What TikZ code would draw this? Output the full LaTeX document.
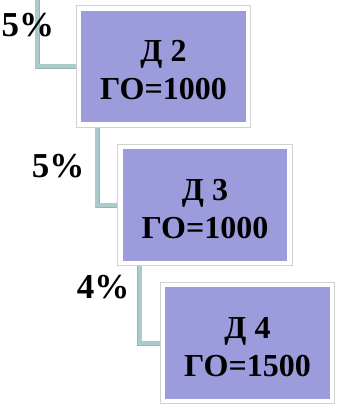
\documentclass[tikz,border=0pt]{standalone}
\usepackage{fontspec}
\setmainfont{Liberation Serif}
\definecolor{boxfill}{HTML}{9C9CDC}
\definecolor{conn}{HTML}{AACACC}
\definecolor{connedge}{HTML}{95B5B8}
\begin{document}
\begin{tikzpicture}[x=1pt,y=-1pt,
  dbox/.style={rectangle, minimum width=169pt, minimum height=116pt, inner sep=0pt, outer sep=0pt,
    fill=boxfill, draw=white, line width=4.5pt,
    preaction={draw=gray!35, line width=6.5pt}},
  btext/.style={align=center, inner sep=0pt, yshift=-4pt,
    font=\fontsize{32}{38}\selectfont\bfseries},
  pct/.style={font=\fontsize{35}{40}\selectfont\bfseries, inner sep=0pt},
  link/.style={draw=conn, line width=4pt, preaction={draw=connedge, line width=5pt}}]
\useasboundingbox (0,0) rectangle (337,404);
\coordinate (top) at (37,-2);
\node[dbox] (b1) at (163.5,66.5) {};
\node[dbox] (b2) at (205,205) {};
\node[dbox] (b3) at (247.5,343) {};
\path[link] (top) |- (b1.west);
\path[link] ([xshift=18pt]b1.south west) |- (b2.west);
\path[link] ([xshift=19pt]b2.south west) |- (b3.west);
\node[dbox] (c1) at (b1) {};
\node[dbox] (c2) at (b2) {};
\node[dbox] (c3) at (b3) {};
\node[btext] (t1) at (c1) {Д 2\\ГО=1000};
\node[btext] (t2) at (c2) {Д 3\\ГО=1000};
\node[btext] (t3) at (c3) {Д 4\\ГО=1500};
\node[pct] (p1) at (28,25) {5\%};
\node[pct] (p2) at (58,166) {5\%};
\node[pct] (p3) at (103,287) {4\%};
\end{tikzpicture}
\end{document}
